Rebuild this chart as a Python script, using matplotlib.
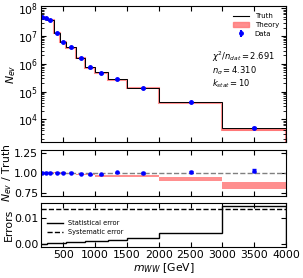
import numpy as np
import matplotlib.pyplot as plt
from matplotlib.patches import Patch
from matplotlib.lines import Line2D

# bin edges in m_WW [GeV]
edges = np.array([150, 200, 250, 350, 450, 550, 700, 850, 1000, 1200, 1500, 2000, 3000, 4000])

# truth and pseudo-data event counts per bin
truth = np.array([5.0e7, 4.4e7, 3.8e7, 1.3e7, 5.9e6, 3.9e6, 1.68e6, 7.55e5, 4.9e5, 2.79e5, 1.39e5, 4.28e4, 4.88e3])
data = np.array([5.0e7, 4.4e7, 3.8e7, 1.3e7, 5.9e6, 3.9e6, 1.66e6, 7.4e5, 4.8e5, 2.8e5, 1.38e5, 4.3e4, 5.0e3])
data_rel_err = np.array([0.004, 0.004, 0.004, 0.005, 0.005, 0.006, 0.007, 0.008, 0.009, 0.01, 0.011, 0.012, 0.015])

# theory prediction relative to truth, with relative band width
theory_ratio = np.array([1.0, 1.0, 1.0, 1.0, 0.995, 0.99, 0.98, 0.975, 0.96, 0.96, 0.96, 0.92, 0.845])
theory_unc = np.array([0.008, 0.008, 0.008, 0.008, 0.008, 0.008, 0.009, 0.009, 0.01, 0.01, 0.012, 0.02, 0.045])

# error panel
stat_err = np.array([0.0002, 0.0002, 0.0003, 0.0004, 0.0005, 0.0007, 0.0009, 0.0011, 0.0013, 0.0017, 0.0022, 0.0044, 0.0145])
sys_err = 0.0134

chi2 = 2.691
n_sigma = 4.310
k_stat = 10

plt.rcParams['font.size'] = 7.8
plt.rcParams['mathtext.fontset'] = 'dejavusans'

fig = plt.figure(figsize=(3.03, 2.78), dpi=100)
ax1 = fig.add_axes([0.135, 0.490, 0.809, 0.488])
ax2 = fig.add_axes([0.135, 0.295, 0.809, 0.165], sharex=ax1)
ax3 = fig.add_axes([0.135, 0.110, 0.809, 0.159], sharex=ax1)

centers = 0.5 * (edges[1:] + edges[:-1])
theory = truth * theory_ratio
red = (1.0, 0.45, 0.45)

# main panel
ax1.stairs(theory * (1 + theory_unc), edges, baseline=theory * (1 - theory_unc),
           fill=True, color=red, alpha=0.8, lw=0)
ax1.stairs(theory, edges, color=red, lw=1.5, alpha=0.8)
ax1.stairs(truth, edges, color='k', lw=0.7)
ax1.errorbar(centers, data, yerr=data * data_rel_err, fmt='o', color='blue',
             ms=2.5, capsize=1.5, elinewidth=1)
ax1.set_yscale('log')
ax1.set_ylim(1.55e3, 1.2e8)
ax1.set_ylabel(r'$N_{ev}$', labelpad=0)
ax1.text(0.70, 0.625, r'$\chi^2/n_{dat} = %.3f$' % chi2, transform=ax1.transAxes, fontsize=6, va='center')
ax1.text(0.70, 0.522, r'$n_\sigma = %.3f$' % n_sigma, transform=ax1.transAxes, fontsize=6, va='center')
ax1.text(0.70, 0.426, r'$k_{stat} = %d$' % k_stat, transform=ax1.transAxes, fontsize=6, va='center')
eb = ax1.errorbar([], [], yerr=[], fmt='o', color='blue', ms=2.5, capsize=1.5)
ax1.legend([Line2D([], [], color='k', lw=0.8), Patch(color=red, alpha=0.8), eb],
           ['Truth', 'Theory', 'Data'], loc='upper right', fontsize=5,
           frameon=False, handlelength=2.4, labelspacing=0.4, borderaxespad=0.6)

# ratio panel
ax2.stairs(theory_ratio + theory_unc, edges, baseline=theory_ratio - theory_unc,
           fill=True, color=red, alpha=0.8, lw=0)
ax2.axhline(1.0, color='grey', ls='--', lw=1)
ax2.errorbar(centers, data / truth, yerr=data / truth * data_rel_err, fmt='o',
             color='blue', ms=2.2, capsize=1.5, elinewidth=1)
ax2.set_ylim(0.71, 1.28)
ax2.set_yticks([0.75, 1.0, 1.25])
ax2.set_ylabel(r'$N_{ev}$ / Truth', labelpad=0)

# error panel
ax3.stairs(stat_err, edges, color='k', lw=1, label='Statistical error')
ax3.axhline(sys_err, color='k', ls='--', lw=1, label='Systematic error')
ax3.set_ylim(-0.0012, 0.0155)
ax3.set_yticks([0.0, 0.01])
ax3.set_yticklabels(['0.00', '0.01'])
ax3.set_ylabel('Errors', labelpad=0)
ax3.legend(loc='center left', fontsize=4.8, frameon=False, bbox_to_anchor=(0.0, 0.45),
           handlelength=2.4)
ax3.set_xlabel(r'$m_{WW}$ [GeV]', labelpad=1)

ax1.set_xlim(150, 4000)
ax3.set_xticks([500, 1000, 1500, 2000, 2500, 3000, 3500, 4000])
for ax in (ax1, ax2, ax3):
    ax.tick_params(direction='in', which='both', top=True, right=True, pad=2)
for ax in (ax1, ax2):
    ax.tick_params(labelbottom=False)
fig.align_ylabels([ax1, ax2, ax3])

plt.savefig('out.png', dpi=100)
